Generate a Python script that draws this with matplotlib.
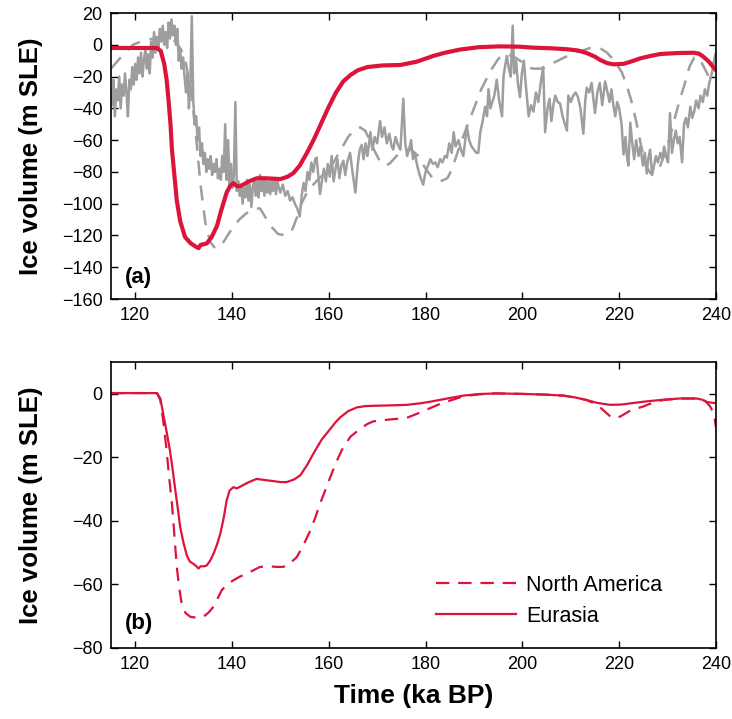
import matplotlib
matplotlib.use('Agg')
import numpy as np
import matplotlib.pyplot as plt

plt.rcParams['font.family'] = ['Liberation Sans', 'DejaVu Sans']

RED = '#DC143C'
GREY = '#9e9e9e'

# Panel (a): modelled total ice volume (red)
model_t = [115, 124.5, 125.3, 126, 126.5, 126.9, 127.3, 127.6, 128.1, 128.6, 129.3, 130.3,
           131.5, 132.5, 133.1, 133.5, 134.8, 135.8, 136.9, 137.8, 138.9, 139.6, 140.3, 141.0,
           141.7, 143.5, 145.1, 147, 150, 151.5, 152.7, 154, 155.5, 157, 158.5, 160, 161.5,
           163, 164.5, 166, 168, 171, 174.8, 178.2, 181.6, 184, 187.1, 191, 195.4, 199.5,
           202.2, 206, 209.2, 211.5, 213.3, 215, 216.1, 217.5, 218.8, 220.9, 222.5, 224.4,
           226.5, 228.5, 232, 235.4, 236.5, 237.4, 238.5, 239.3, 240]
model_v = [-2, -2, -4, -12, -22, -35, -50, -66, -82, -98, -111, -121,
           -125, -127, -128, -126, -125, -121, -114, -104, -93, -89, -87, -89,
           -89, -86, -84, -84, -84.5, -83, -80.7, -76, -68, -59, -49, -39, -30,
           -23, -19, -16, -14, -13, -12.7, -10.6, -7, -5, -3, -1.5, -1, -1.2,
           -1.8, -2.2, -2.8, -3.6, -5.2, -7.5, -9.6, -11.5, -12.3, -12, -10.5, -8.5,
           -7, -5.8, -5.2, -5, -5.6, -7.5, -10.5, -13.5, -16]

# Panel (a): sea-level reconstruction (grey solid)
rec_t = [115.2, 115.5, 115.8, 116.1, 116.4, 116.7, 117.0, 117.3, 117.6, 117.9, 118.2, 118.5,
         118.8, 119.1, 119.4, 119.7, 120.0, 120.3, 120.6, 120.9, 121.2, 121.5, 121.8, 122.1,
         122.4, 122.7, 123.0, 123.3, 123.6, 123.9, 124.2, 124.5, 124.8, 125.1, 125.4, 125.7,
         126.0, 126.3, 126.6, 126.9, 127.2, 127.5, 127.8, 128.1, 128.4, 128.7, 129.0, 129.3,
         129.6, 129.9, 130.2, 130.5, 130.8, 131.1, 131.4, 131.7, 132.0, 132.3, 132.6, 132.9,
         133.2, 133.5, 133.8, 134.1, 134.4, 134.7, 135.0, 135.3, 135.6, 135.9, 136.2, 136.5,
         136.8, 137.1, 137.4, 137.7, 138.0, 138.3, 138.6, 138.9, 139.2, 139.5, 139.8, 140.1,
         140.4, 140.7, 141.0, 141.3, 141.6, 141.9, 142.2, 142.5, 142.8, 143.1, 143.4, 143.7,
         144.0, 144.3, 144.6, 144.9, 145.2, 145.5, 145.8, 146.1, 146.4, 146.7, 147.0, 147.3,
         147.6, 147.9, 148.2, 148.5, 148.8, 149.1, 149.4, 149.7, 150.0, 150.5, 151.0, 151.5,
         152.0, 152.5, 153.0, 153.5, 154.0, 154.4, 154.8, 155.2, 155.6, 156.0, 156.4, 156.8,
         157.2, 157.5, 157.9, 158.2, 158.6, 159.0, 159.4, 159.8, 160.2, 160.6, 161.0, 161.4,
         161.8, 162.2, 162.6, 163.0, 163.4, 163.8, 164.4, 164.9, 165.5, 166.0, 166.4, 166.8,
         167.2, 167.6, 168.0, 168.6, 169.0, 169.5, 170.0, 170.6, 171.0, 171.5, 172.0, 172.5,
         173.0, 173.3, 173.8, 174.3, 174.8, 175.4, 175.8, 176.2, 176.6, 177.0, 177.4, 177.8,
         178.2, 178.6, 179.0, 179.5, 180.0, 180.5, 181.0, 181.5, 182.0, 182.5, 183.0, 183.5,
         184.0, 184.4, 184.9, 185.4, 185.8, 186.2, 186.8, 187.3, 187.8, 188.2, 188.5, 189.0,
         189.5, 190.0, 190.5, 190.9, 191.3, 191.8, 192.3, 192.7, 193.0, 193.4, 193.8, 194.2,
         194.7, 195.2, 195.8, 196.1, 196.5, 196.8, 197.2, 197.6, 198.0, 198.3, 198.7, 199.1,
         199.5, 199.9, 200.3, 200.7, 201.3, 201.8, 202.3, 202.8, 203.3, 203.8, 204.3, 204.7,
         205.2, 205.6, 206.0, 206.4, 206.8, 207.3, 207.8, 208.3, 208.8, 209.2, 209.5, 210.0,
         210.5, 211.0, 211.5, 212.0, 212.6, 213.0, 213.3, 213.8, 214.3, 214.7, 215.0, 215.5,
         216.0, 216.5, 217.1, 217.6, 218.0, 218.4, 218.8, 219.2, 219.6, 220.0, 220.5, 220.9,
         221.3, 221.6, 221.9, 222.3, 222.7, 223.1, 223.5, 224.0, 224.4, 224.9, 225.3, 225.7,
         226.0, 226.4, 226.8, 227.2, 227.6, 228.0, 228.5, 228.9, 229.3, 229.7, 230.1, 230.5,
         230.9, 231.3, 231.7, 232.1, 232.5, 233.0, 233.4, 233.8, 234.2, 234.7, 235.1, 235.5,
         235.9, 236.4, 236.8, 237.3, 237.7, 238.2, 238.6, 239.0, 239.4, 239.8, 240.0]
rec_v = [-38, -22, -45, -28, -35, -20, -40, -25, -32, -18, -30, -45,
         -22, -28, -14, -25, -12, -22, -8, -18, -5, -20, -10, -3,
         -15, -6, -18, 2, -8, 8, -5, 5, -2, 10, 2, 12,
         0, 8, -2, 14, 4, 16, 6, 12, 0, 10, -10, -3,
         -15, -8, -20, -30, -18, -40, -25, 18, -35, -50, -45, -60,
         -52, -70, -62, -75, -68, -80, -72, -78, -70, -82, -75, -80,
         -72, -84, -78, -85, -70, -80, -50, -85, -60, -88, -75, -90,
         -82, -36, -92, -86, -95, -88, -100, -90, -96, -85, -98, -88,
         -102, -90, -84, -95, -86, -96, -82, -92, -85, -95, -84, -93,
         -86, -94, -85, -92, -84, -94, -86, -90, -93, -88, -95, -92,
         -98, -96, -100, -103, -108, -95, -87, -92, -80, -85, -74, -80,
         -72, -71, -85, -94, -85, -78, -86, -75, -83, -70, -86, -78,
         -72, -84, -76, -73, -82, -74, -68, -80, -93, -75, -66, -63,
         -72, -62, -70, -55, -66, -58, -62, -48, -58, -52, -62, -56,
         -64, -66, -58, -63, -66, -34, -62, -70, -66, -60, -72, -68,
         -75, -80, -84, -88, -80, -76, -72, -75, -74, -77, -72, -74,
         -70, -71, -62, -68, -55, -64, -60, -66, -70, -60, -51, -60,
         -64, -66, -68, -68, -55, -48, -39, -45, -28, -40, -36, -32,
         -22, -35, -45, -20, -12, -7, -15, -20, 12, -18, -10, -25,
         -33, -18, -10, -25, -45, -38, -42, -30, -36, -24, -14, -55,
         -40, -34, -48, -38, -32, -36, -37, -45, -50, -54, -32, -36,
         -32, -30, -33, -40, -56, -35, -27, -30, -24, -35, -43, -30,
         -24, -38, -23, -30, -36, -28, -38, -45, -36, -40, -50, -69,
         -58, -70, -76, -49, -62, -72, -60, -70, -64, -76, -68, -81,
         -72, -66, -82, -76, -70, -74, -68, -72, -64, -70, -74, -43,
         -68, -60, -54, -62, -58, -74, -50, -46, -52, -39, -46, -42,
         -35, -40, -32, -36, -28, -32, -24, -20, -14, -8, -5]

# Panel (a): second reconstruction (grey dashed)
alt_t = [115, 117, 119.5, 122, 124, 126.5, 128, 129.5, 130.5, 131.5, 132.5, 133.5, 134.5,
         135.5, 136.5, 137.5, 138.5, 139.5, 140.5, 141.5, 143, 144.5, 145.8, 146.8, 148,
         149.5, 151, 152.5, 153.5, 154.5, 155.5, 156.8, 158, 159.5, 161, 162.5, 164, 165.5,
         166.5, 167.5, 168.5, 169.5, 170.5, 171.5, 172.5, 174, 175.5, 177, 178.5, 180, 181.5,
         183, 184.5, 185.5, 187, 188.5, 189.5, 190.5, 191.5, 192.5, 193.5, 195, 196, 198,
         200, 202, 204, 206, 208, 210, 212, 214, 216, 217.5, 219, 220.5, 221.5, 222.5,
         223.5, 224.5, 225.5, 226.5, 227.5, 228.5, 229.5, 230.5, 231.5, 232.5, 233.5, 234.5,
         235.5, 236.5, 237.5, 238.5, 239.3, 240]
alt_v = [-15, -8, 0, 3, 4, 5, 3, -3, -12, -28, -55, -88, -112,
         -124, -128, -127, -123, -118, -114, -110, -106, -103, -103, -108, -114,
         -119, -120, -116, -108, -99, -93, -88, -84, -80, -74, -66, -58, -53,
         -52, -54, -60, -67, -73, -76, -75, -70, -66, -66, -70, -78, -84,
         -86, -84, -78, -64, -52, -44, -36, -28, -22, -16, -9, -6, -7,
         -11, -15, -15, -12, -9, -6, -4, -2, -2, -5, -10, -17, -25, -35,
         -48, -63, -76, -81, -80, -76, -68, -58, -46, -35, -25, -14,
         -8, -8, -14, -20, -14, -5]

# Panel (b): Eurasia (solid) and North America (dashed)
eu_t = [115, 124.5, 125.2, 125.8, 126.5, 127.2, 127.8, 128.3, 128.8, 129.3, 130, 130.7, 131.3,
        132, 132.6, 133.1, 133.5, 134.3, 134.8, 135.5, 136.2, 136.9, 137.6, 138.3, 138.9,
        139.5, 140.3, 141, 142, 143.5, 145.1, 147, 148.6, 150, 151.3, 152.8, 154.1, 155.5,
        156.8, 158.5, 160.3, 161.5, 162.4, 164, 165.8, 167.5, 169.2, 172, 176.1, 179, 181,
        184.5, 187.8, 191, 194.7, 198, 201, 205, 208.5, 211, 213.3, 215.5, 218.1, 220.5,
        223, 225.7, 229, 232.6, 236, 237.2, 238.1, 240]
eu_v = [0.2, 0.2, -1.5, -6.4, -12, -18, -24.5, -30.4, -36, -42, -47, -51, -52.8,
        -53.5, -54.2, -55, -54.3, -54.3, -54, -52.5, -50.3, -47.5, -44, -39, -33.6,
        -30.5, -29.4, -29.8, -29, -27.8, -26.8, -27.2, -27.5, -27.8, -27.8, -27, -25.7, -22.5,
        -18.9, -14.5, -11.1, -8.8, -7.4, -5.5, -4.3, -3.9, -3.8, -3.7, -3.5, -3.0, -2.5,
        -1.5, -0.6, -0.1, 0.1, 0, -0.1, -0.3, -0.6, -1.2, -2, -2.9, -3.5, -3.4,
        -2.9, -2.4, -1.9, -1.5, -1.5, -1.9, -2.6, -3]
na_t = [115, 124.5, 125.2, 125.8, 126.5, 127, 127.6, 128.1, 128.6, 129.1, 129.6, 130.4, 131.4,
        132.8, 134.1, 135.2, 136.2, 137, 137.9, 139, 140.3, 141.7, 143.1, 144.5, 145.8, 147.5,
        149.3, 150.5, 151.5, 153.4, 154.8, 156.2, 157.2, 158.2, 159.3, 160.3, 161, 162, 163,
        164.5, 166.5, 168, 169.2, 172, 176.1, 178.9, 181, 183, 185, 187.8, 191, 194.7, 198,
        201, 205, 208.5, 211, 213.3, 215.5, 216.8, 218.5, 220.2, 222.3, 225, 227, 229, 232.6,
        236, 237.8, 238.8, 239.6, 240]
na_v = [0.2, 0.2, -2, -8.5, -17.9, -26, -34.6, -44.5, -54.5, -61, -66, -69, -70.2,
        -70.5, -70.2, -68.8, -67, -64.5, -61.8, -60, -58.7, -57.5, -56.6, -55.5, -54.5, -54.3,
        -54.5, -54.5, -54, -51.4, -47.5, -43, -39, -34.6, -30.3, -26.3, -23.6, -20, -16.8,
        -13.5, -11, -9.5, -8.7, -8.2, -7.6, -5.9, -4.5, -3.2, -2.2, -0.8, -0.2, 0.1, 0,
        -0.1, -0.3, -0.6, -1.2, -2, -3.5, -5.3, -7.6, -7.2, -5.3, -4, -2.8, -2, -1.5,
        -1.5, -2.3, -4, -6.4, -10.6]

xticks = [120, 140, 160, 180, 200, 220, 240]

fig = plt.figure(figsize=(7.32, 7.19), dpi=100)
ax1 = fig.add_axes([0.1516, 0.5841, 0.8265, 0.3978])
ax2 = fig.add_axes([0.1516, 0.0988, 0.8265, 0.3978])

ax1.plot(alt_t, alt_v, color=GREY, lw=1.8, ls=(0, (6, 4)))
ax1.plot(rec_t, rec_v, color=GREY, lw=1.8)
ax1.plot(model_t, model_v, color=RED, lw=3.0, solid_capstyle='round')
ax1.set_ylim(-160, 20)
ax1.set_yticks(np.arange(-160, 21, 20))
ax1.text(117.9, -146.5, '(a)', fontsize=16, fontweight='bold', va='center')

ax2.plot(na_t, na_v, color=RED, lw=1.6, ls=(0, (6, 4)), label='North America')
ax2.plot(eu_t, eu_v, color=RED, lw=1.6, label='Eurasia')
ax2.set_ylim(-80, 10)
ax2.set_yticks([-80, -60, -40, -20, 0])
ax2.text(117.9, -72.2, '(b)', fontsize=16, fontweight='bold', va='center')
ax2.legend(loc='upper left', bbox_to_anchor=(0.537, 0.255), frameon=False, fontsize=15.5,
           handlelength=3.7, handletextpad=0.5, labelspacing=0.45, borderpad=0, borderaxespad=0)
ax2.set_xlabel('Time (ka BP)', fontsize=19, fontweight='bold', labelpad=8)

for ax in (ax1, ax2):
    ax.set_xlim(115, 240)
    ax.set_xticks(xticks)
    ax.tick_params(direction='in', top=True, right=True, length=5, width=1,
                   labelsize=13, pad=6)
    for s in ax.spines.values():
        s.set_linewidth(1.2)
    ax.set_ylabel('Ice volume (m SLE)', fontsize=18.5, fontweight='bold')
    ax.yaxis.set_label_coords(-0.112, 0.5)

fig.savefig('out.png', dpi=100)
